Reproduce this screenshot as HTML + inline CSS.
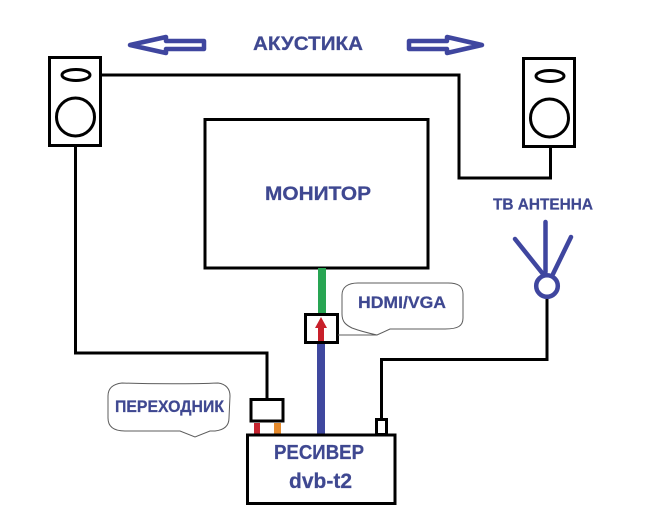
<!DOCTYPE html>
<html>
<head>
<meta charset="utf-8">
<style>
html,body{margin:0;padding:0;background:#fff;width:656px;height:525px;overflow:hidden}
svg{display:block}
text{font-family:"Liberation Sans","Noto Sans CJK SC",sans-serif;font-weight:bold;fill:#3f4891;stroke:#3f4891;stroke-width:.25}
</style>
</head>
<body>
<svg width="656" height="525" viewBox="0 0 656 525" xmlns="http://www.w3.org/2000/svg">
<rect width="656" height="525" fill="#fff"/>

<!-- arrows -->
<path d="M130 45 L166 37 L166 41 L204 41 L204 49 L166 49 L166 53 Z" fill="#fff" stroke="#3f469f" stroke-width="4.500" stroke-linejoin="round"/>
<path d="M482 45 L447 37 L447 41 L409 41 L409 49 L447 49 L447 53 Z" fill="#fff" stroke="#3f469f" stroke-width="4.500" stroke-linejoin="round"/>

<!-- wires -->
<g fill="none" stroke="#000" stroke-width="3">
<path d="M102 75 H459 V178 H550.5 V147"/>
<path d="M75.500 147 V353 H267 V398"/>
<path d="M547 298 V359.500 H381.500 V418"/>
<!-- left speaker -->
<rect x="49.500" y="57.500" width="51" height="88"/>
<ellipse cx="76" cy="75" rx="14" ry="5.500"/>
<circle cx="75.500" cy="117" r="19"/>
<!-- right speaker -->
<rect x="523.500" y="58.500" width="51" height="88"/>
<ellipse cx="550" cy="76" rx="14" ry="5.500"/>
<circle cx="549.500" cy="118" r="19"/>
<!-- monitor -->
<rect x="205" y="119.500" width="223" height="148.500"/>
</g>

<!-- signal cables -->
<rect x="318" y="268" width="8" height="46" fill="#28a553"/>
<rect x="317" y="342" width="8" height="92" fill="#3f489f"/>

<!-- hdmi adapter -->
<rect x="305.500" y="314.500" width="32" height="28" fill="#fff" stroke="#000" stroke-width="3"/>
<path d="M321 317 L327 328 L324 328 L324 341 L318 341 L318 328 L315 328 Z" fill="#c8202a"/>

<!-- receiver connectors -->
<rect x="254" y="423" width="6" height="11" fill="#c4242f"/>
<rect x="274" y="423" width="7" height="11" fill="#e58a2c"/>
<rect x="251" y="399.500" width="32" height="21.500" fill="#fff" stroke="#000" stroke-width="3"/>
<rect x="376.500" y="419.500" width="10" height="15" fill="#fff" stroke="#000" stroke-width="3"/>
<rect x="247.500" y="435" width="147.500" height="68.500" fill="#fff" stroke="#000" stroke-width="3"/>

<!-- antenna -->
<g fill="none" stroke="#3f469f" stroke-width="4.500" stroke-linecap="round">
<line x1="515" y1="239" x2="543" y2="274"/>
<line x1="545.500" y1="222" x2="545.500" y2="272"/>
<line x1="571" y1="237" x2="553" y2="274"/>
<circle cx="547" cy="286" r="10.800"/>
</g>

<!-- callouts -->
<path d="M338 335 L377 335 L390 329 L445 329 C458 329 463 326 463 318 L463 294 C463 286 458 283 448 283 L358 283 C348 283 342 287 342 295 L342 314 C342 322 346 325 352 328 C360 331 368 333 377 335" fill="#fff" stroke="#5c5c5c" stroke-width="1"/>
<path d="M122 383 C150 384 195 384 218 383 C226 384 230 389 230 396 L229 418 C229 426 224 430 215 431 L210 431 L195 437 L180 431 L125 431 C113 431 108 426 108 418 L108 396 C108 388 113 384 122 383 Z" fill="#fff" stroke="#5c5c5c" stroke-width="1"/>

<!-- labels -->
<text x="253" y="50" font-size="19" textLength="110" lengthAdjust="spacingAndGlyphs">АКУСТИКА</text>
<text x="265" y="200" font-size="19" textLength="106" lengthAdjust="spacingAndGlyphs">МОНИТОР</text>
<text x="493" y="209.500" font-size="16" textLength="100" lengthAdjust="spacingAndGlyphs">ТВ АНТЕННА</text>
<text x="358" y="308" font-size="17" textLength="88" lengthAdjust="spacingAndGlyphs">HDMI/VGA</text>
<text x="115" y="412" font-size="16.500" textLength="109" lengthAdjust="spacingAndGlyphs">ПЕРЕХОДНИК</text>
<text x="274" y="459" font-size="20" textLength="90" lengthAdjust="spacingAndGlyphs">РЕСИВЕР</text>
<text x="289" y="488" font-size="21" textLength="63" lengthAdjust="spacingAndGlyphs">dvb-t2</text>
</svg>
</body>
</html>
